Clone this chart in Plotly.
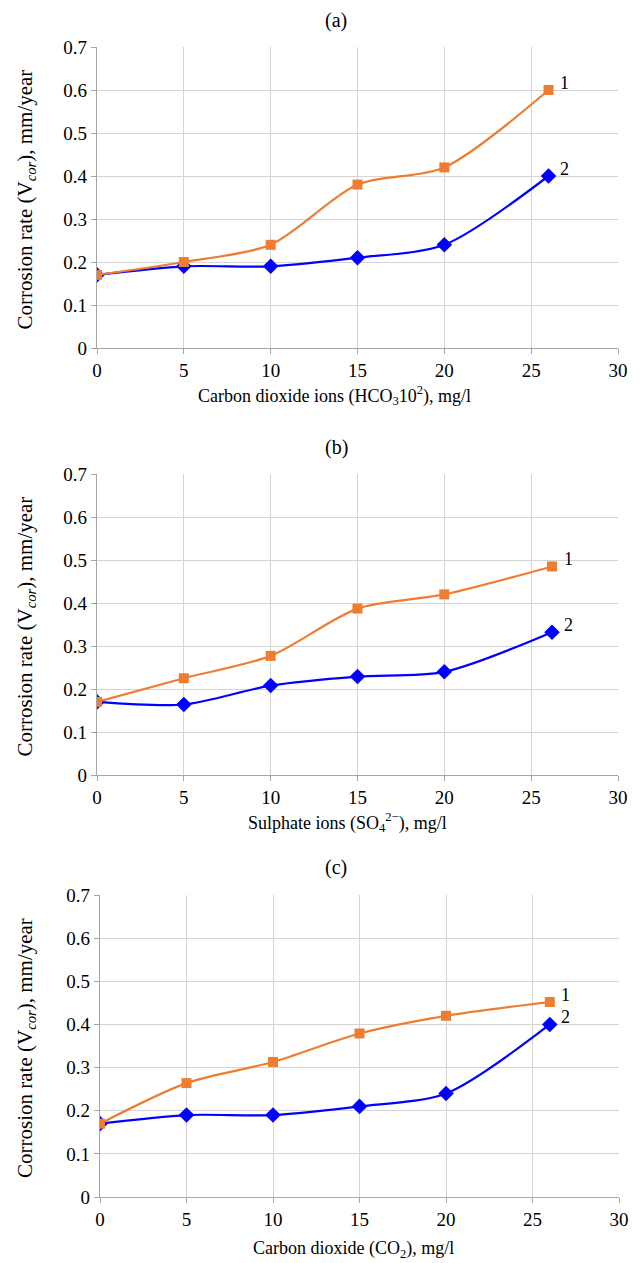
import plotly.graph_objects as go

# ---------- data ----------
x_a = [0, 5, 10, 15, 20, 26]
a_s1 = [0.17, 0.20, 0.24, 0.38, 0.42, 0.60]
a_s2 = [0.17, 0.19, 0.19, 0.21, 0.24, 0.40]

x_b = [0, 5, 10, 15, 20, 26.2]
b_s1 = [0.17, 0.225, 0.277, 0.387, 0.42, 0.485]
b_s2 = [0.17, 0.164, 0.208, 0.229, 0.24, 0.332]

x_c = [0, 5, 10, 15, 20, 26]
c_s1 = [0.17, 0.264, 0.313, 0.379, 0.42, 0.452]
c_s2 = [0.17, 0.19, 0.19, 0.21, 0.24, 0.40]

panel_titles = ["(a)", "(b)", "(c)"]
x_titles = [
    "Carbon dioxide ions (HCO<sub>3</sub>10<sup>2</sup>), mg/l",
    "Sulphate ions (SO<sub>4</sub><sup>2\u2212</sup>), mg/l",
    "Carbon dioxide (CO<sub>2</sub>), mg/l",
]
y_title = "Corrosion rate (V<sub><i>cor</i></sub>), mm/year"
series_labels = ["1", "2"]
x_ticks = [0, 5, 10, 15, 20, 25, 30]
y_ticks = [0, 0.1, 0.2, 0.3, 0.4, 0.5, 0.6, 0.7]

OFF = 8  # page body margin of the html page
W, H = 643 - OFF, 1263 - OFF
FONT = "Liberation Serif"
ORANGE = "#ED7D31"
BLUE = "#0000FF"

# pixel layout (in page pixels) of plot areas (left, right, top, bottom)
areas = [(97, 618, 47, 348), (97, 618, 474, 775), (100, 619, 895, 1197)]
xtitle_cx = [335, 347, 353]
xtitle_cy = [395, 822, 1249]

panels = [(x_a, a_s1, a_s2), (x_b, b_s1, b_s2), (x_c, c_s1, c_s2)]


def px(v):
    return (v - OFF) / W


def py(v):
    return 1 - (v - OFF) / H


fig = go.Figure()
layout = dict(
    width=W, height=H,
    margin=dict(l=0, r=0, t=0, b=0, pad=0, autoexpand=False),
    paper_bgcolor="white", plot_bgcolor="white",
    showlegend=False,
    font=dict(family=FONT, size=19, color="black"),
)
annotations = []

for i, ((xs, s1, s2), (l, r, t, b)) in enumerate(zip(panels, areas)):
    n = "" if i == 0 else str(i + 1)
    xa, ya = "x" + n, "y" + n
    fig.add_trace(go.Scatter(
        x=xs, y=s2, xaxis=xa, yaxis=ya, mode="lines+markers",
        line=dict(color=BLUE, width=2.2, shape="spline", smoothing=0.8),
        marker=dict(symbol="diamond", size=12, color=BLUE),
    ))
    fig.add_trace(go.Scatter(
        x=xs, y=s1, xaxis=xa, yaxis=ya, mode="lines+markers",
        line=dict(color=ORANGE, width=2.2, shape="spline", smoothing=0.8),
        marker=dict(symbol="square", size=10, color=ORANGE),
    ))
    axis_common = dict(
        showgrid=True, gridcolor="#d4d4d4", gridwidth=1.3,
        showline=True, linecolor="#a6a6a6", linewidth=1.3,
        ticks="outside", ticklen=5, tickcolor="#a6a6a6",
        zeroline=False, tickfont=dict(family=FONT, size=19, color="black"),
        fixedrange=True, automargin=False,
    )
    layout["xaxis" + n] = dict(
        axis_common, domain=[px(l), px(r)], anchor=ya, range=[0, 30],
        tickvals=x_ticks, ticktext=[str(v) for v in x_ticks],
    )
    layout["yaxis" + n] = dict(
        axis_common, domain=[py(b), py(t)], anchor=xa, range=[0, 0.7],
        tickvals=y_ticks, ticktext=[("%g" % v) for v in y_ticks],
    )
    # panel title
    annotations.append(dict(
        text=panel_titles[i], xref="paper", yref="paper",
        x=px(336), y=py(t - 27), showarrow=False,
        font=dict(family=FONT, size=20), xanchor="center", yanchor="middle",
    ))
    # x title
    annotations.append(dict(
        text=x_titles[i], xref="paper", yref="paper",
        x=px(xtitle_cx[i]), y=py(xtitle_cy[i]), showarrow=False,
        font=dict(family=FONT, size=18), xanchor="center", yanchor="middle",
    ))
    # y title
    annotations.append(dict(
        text=y_title, xref="paper", yref="paper",
        x=px(26), y=py((t + b) / 2 + 2), showarrow=False, textangle=-90,
        font=dict(family=FONT, size=21), xanchor="center", yanchor="middle",
    ))
    # series labels
    for lab, s in zip(series_labels, (s1, s2)):
        annotations.append(dict(
            text=lab, xref=xa, yref=ya, x=xs[-1], y=s[-1],
            xshift=16, yshift=7, showarrow=False,
            font=dict(family=FONT, size=18), xanchor="center", yanchor="middle",
        ))

layout["annotations"] = annotations
fig.update_layout(**layout)
fig.write_html("out.html")
